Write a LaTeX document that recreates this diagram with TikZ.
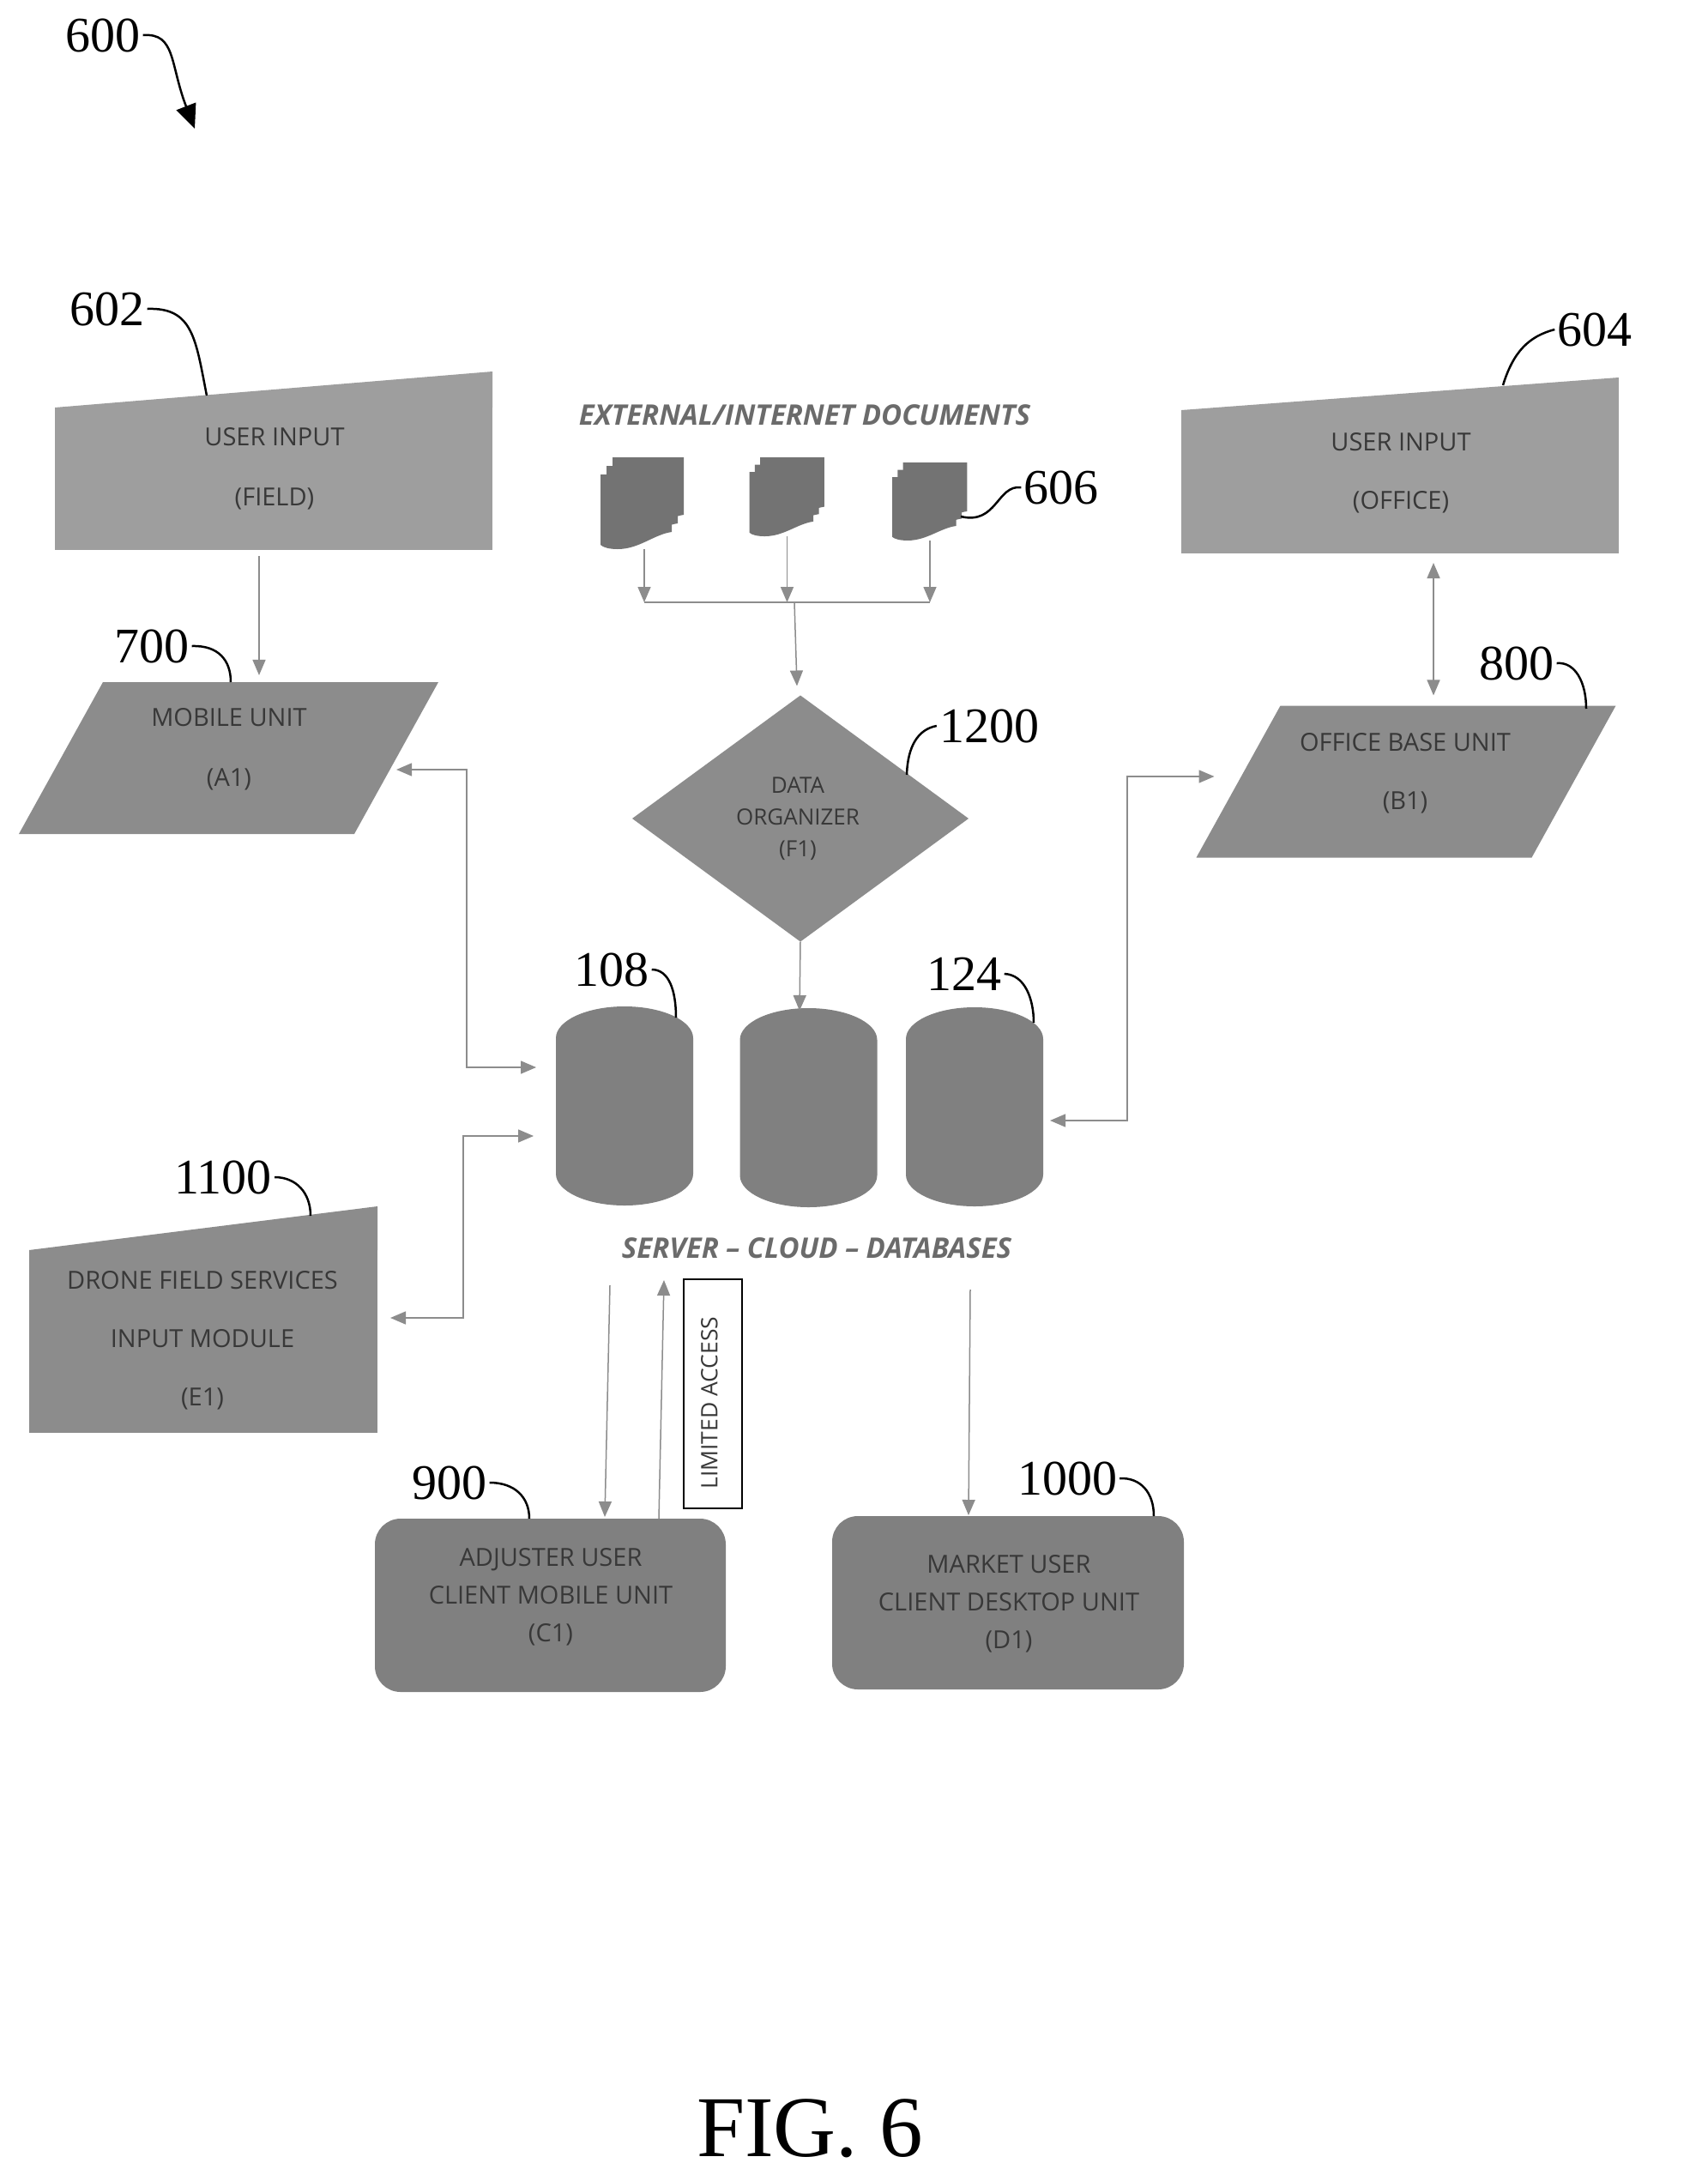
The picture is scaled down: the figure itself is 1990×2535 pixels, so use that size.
\documentclass[tikz,border=0pt]{standalone}
\usepackage{fontspec}
\setmainfont{Open Sans}
\newfontfamily\numfont{Liberation Serif}
\usetikzlibrary{shapes.geometric,arrows.meta}

\definecolor{inputgray}{gray}{0.62}
\definecolor{unitgray}{gray}{0.55}
\definecolor{cylgray}{gray}{0.50}
\definecolor{docgray}{gray}{0.45}
\definecolor{linegray}{gray}{0.55}
\definecolor{textgray}{gray}{0.22}
\definecolor{headgray}{gray}{0.42}

\begin{document}
\begin{tikzpicture}[%
    x=1pt, y=-1pt,               % one unit is one pixel of the sheet, y going down
    >={Triangle[length=18pt,width=15pt]},
    ]
% -------------------------------------------------
% A few box styles
\tikzset{
  base/.style={inner sep=1pt, outer sep=0pt},
  inbox/.style={base, rectangle, fill=inputgray},
  dronebox/.style={base, rectangle, fill=unitgray},
  unit/.style={base, trapezium, trapezium left angle=71.5, trapezium right angle=108.5,
    trapezium stretches=true, fill=unitgray, minimum height=177pt, minimum width=489pt},
  client/.style={base, rectangle, rounded corners=30pt, fill=cylgray, minimum height=202pt},
  organize/.style={base, diamond, fill=unitgray, minimum width=392pt, minimum height=287pt},
  dbase/.style={base, rectangle, minimum width=160pt, minimum height=232pt},
  docbox/.style={base, rectangle},
  % text of the boxes
  blabel/.style={base, align=center, text=textgray, font=\fontsize{29}{#1}\selectfont},
  blabel/.default=70,
  head/.style={base, text=headgray, font=\fontsize{33}{38}\selectfont\bfseries\itshape},
  refnum/.style={inner sep=3pt, font=\numfont\fontsize{58}{60}\selectfont},
  % -------------------------------------------------
  % Connector line styles
  plainlink/.style={draw=linegray, line width=1.5pt},
  link/.style={plainlink, ->},
  duplex/.style={plainlink, <->},
  leader/.style={draw=black, line width=2.5pt},
  % the two drawn symbols
  pics/docstack/.style={code={
    \foreach \dx/\dy in {14/0,7/10,0/20}
      \fill[docgray, shift={(\dx,\dy)}] (0,0) -- (83,0) -- (83,67)
        .. controls (62,70) and (45,87) .. (20,87)
        .. controls (10,87) and (3,85) .. (0,82) -- cycle;
  }},
  pics/dbcan/.style={code={
    \fill[cylgray] (-80,-79) arc[start angle=180, end angle=0, x radius=80pt, y radius=37pt]
      -- (80,79) arc[start angle=0, end angle=-180, x radius=80pt, y radius=37pt] -- cycle;
  }},
}
\useasboundingbox (0,0) rectangle (1990,2535);
\fill[white] (0,0) rectangle (1990,2535);
% -------------------------------------------------
% Start by placing the shapes
\node [inbox, minimum width=510pt, minimum height=166pt] (field) at (319,558) {};
\fill [inputgray] (field.north west) -- ([yshift=42pt]field.north east) -- (field.north east) -- cycle;
\node [inbox, minimum width=509.5pt, minimum height=167pt] (office) at (1632,561.5) {};
\fill [inputgray] (office.north west) -- ([yshift=38pt]office.north east) -- (office.north east) -- cycle;
\node [dronebox, minimum width=406pt, minimum height=213pt] (drone) at (237,1563.5) {};
\fill [unitgray] (drone.north west) -- ([yshift=51pt]drone.north east) -- (drone.north east) -- cycle;

\node [unit] (mobile) at (266.5,883.5) {};
\node [unit] (base) at (1639,911) {};
\node [organize] (organizer) at (933,954) {};

\node [dbase] (dba) at (728,1289) {};
\node [dbase] (dbb) at (942.5,1291) {};
\node [dbase] (dbc) at (1136,1290) {};
\pic at (dba.center) {dbcan};
\pic at (dbb.center) {dbcan};
\pic at (dbc.center) {dbcan};

\node [client, minimum width=409pt] (adjuster) at (641.5,1871) {};
\node [client, minimum width=410pt] (market) at (1175,1868) {};
\node [base, draw=black, line width=1.5pt, fill=white, minimum width=68pt, minimum height=267pt] (limited) at (831,1624.5) {};

% the three stacks of documents
\node [docbox, minimum width=98pt, minimum height=107pt] (doca) at (749,586.5) {};
\node [docbox, minimum width=88pt, minimum height=92pt] (docb) at (917.5,579) {};
\node [docbox, minimum width=88pt, minimum height=91pt] (docc) at (1084,584.5) {};
\pic at (doca.north west) {docstack};
\pic [xscale=0.9, yscale=0.86] at (docb.north west) {docstack};
\pic [xscale=0.9, yscale=0.85] at (docc.north west) {docstack};
% -------------------------------------------------
% The texts
\node [blabel] (fieldtxt) at (320,546) {USER INPUT\\(FIELD)};
\node [blabel=68] (officetxt) at (1633,551) {USER INPUT\\(OFFICE)};
\node [blabel] (mobiletxt) at (267,873) {MOBILE UNIT\\(A1)};
\node [blabel=68] (basetxt) at (1638,901) {OFFICE BASE UNIT\\(B1)};
\node [blabel=37, font=\fontsize{26}{37}\selectfont] (organizertxt) at (930,954) {DATA\\ORGANIZER\\(F1)};
\node [blabel=68] (dronetxt) at (236,1562) {DRONE FIELD SERVICES\\INPUT MODULE\\(E1)};
\node [blabel=44] (adjustertxt) at (642,1861) {ADJUSTER USER\\CLIENT MOBILE UNIT\\(C1)};
\node [blabel=44] (markettxt) at (1176,1869) {MARKET USER\\CLIENT DESKTOP UNIT\\(D1)};
\node [blabel, rotate=90, font=\fontsize{26.5}{30}\selectfont] (limitedtxt) at (827,1635) {LIMITED ACCESS};
\node [head] (exthead) at (938,484) {EXTERNAL/INTERNET DOCUMENTS};
\node [head] (srvhead) at (952,1455) {SERVER -- CLOUD -- DATABASES};
% -------------------------------------------------
% Free ends and corners of the connectors
\coordinate (bus) at (926,702);
\coordinate (turnm) at (544,1244);
\coordinate (turnd) at (540,1324);
\coordinate (turnb) at (1314,1306);
\coordinate (srvdown) at (711,1498);
\coordinate (srvup) at (774,1492);
\coordinate (srvmarket) at (1131,1503);
% -------------------------------------------------
% Straight connectors
\draw [link] ([xshift=-17pt,yshift=-7pt]field.south) -- ([xshift=35.5pt,yshift=8pt]mobile.north);
\draw [duplex] ([xshift=39pt,yshift=-11pt]office.south) -- ([xshift=32pt,yshift=12pt]base.north);
\draw [link] ([xshift=2pt]doca.south) -- ([xshift=2pt]doca.south |- bus);
\draw [link] (docb.south) -- (docb.south |- bus);
\draw [link] (docc.south) -- (docc.south |- bus);
\draw [plainlink] ([xshift=2pt]doca.south |- bus) -- (docc.south |- bus);
\draw [link] (bus) -- ([xshift=-4pt,yshift=11pt]organizer.north);
\draw [link] (organizer.south) -- ([xshift=-10.5pt,yshift=-3pt]dbb.north);
\draw [link] (srvdown) -- ([xshift=63.5pt,yshift=2pt]adjuster.north);
\draw [link] ([xshift=126.5pt]adjuster.north) -- (srvup);
\draw [link] (srvmarket) -- ([xshift=-46pt,yshift=1pt]market.north);
% -------------------------------------------------
% The twisty connectors
\draw [duplex] ([yshift=-13.5pt]mobile.east) -| (turnm) -- ([xshift=-103pt,yshift=45pt]dba.center);
\draw [duplex] ([xshift=15pt,yshift=27.5pt]drone.east) -| (turnd) -- ([xshift=-106pt,yshift=-35pt]dba.center);
\draw [duplex] ([xshift=-28pt,yshift=6pt]base.west) -| (turnb) -- ([xshift=88pt,yshift=-16pt]dbc.center);
% -------------------------------------------------
% Reference numbers with their leaders
\node [refnum] (n600) at (120,41) {600};
\node [refnum] (n602) at (125,360) {602};
\node [refnum] (n604) at (1859,384) {604};
\node [refnum] (n606) at (1237,568) {606};
\node [refnum] (n700) at (177,753) {700};
\node [refnum] (n800) at (1768,773) {800};
\node [refnum] (n1200) at (1153,846) {1200};
\node [refnum] (n108) at (713,1130) {108};
\node [refnum] (n124) at (1124,1135) {124};
\node [refnum] (n1100) at (260,1372) {1100};
\node [refnum] (n900) at (524,1728) {900};
\node [refnum] (n1000) at (1244,1723) {1000};
\node [base, font=\numfont\fontsize{101}{104}\selectfont] (figure) at (944,2481) {FIG. 6};

\coordinate (t600) at (227,150);
\coordinate (t602) at (241,461);
\coordinate (t604) at (1752,449);
\coordinate (t606) at (1120,602);
\coordinate (t700) at (269,795);
\coordinate (t800) at (1849,826);
\coordinate (t1200) at (1057,903);
\coordinate (t108) at (788,1186);
\coordinate (t124) at (1205,1192);
\coordinate (t1100) at (362,1417);
\coordinate (t900) at (617,1770);
\coordinate (t1000) at (1345,1767);

\draw [leader, -{Triangle[length=28pt,width=24pt]}] (n600.east) .. controls (205,38) and (198,75) .. (t600);
\draw [leader] (n602.east) .. controls (225,358) and (228,395) .. (t602);
\draw [leader] (n604.west) .. controls (1782,392) and (1764,410) .. (t604);
\draw [leader] (n606.west) .. controls (1162,565) and (1162,612) .. (t606);
\draw [leader] (n700.east) .. controls (255,752) and (269,770) .. (t700);
\draw [leader] (n800.east) .. controls (1836,771) and (1849,795) .. (t800);
\draw [leader] (n1200.west) .. controls (1070,850) and (1058,870) .. (t1200);
\draw [leader] (n108.east) .. controls (780,1130) and (788,1155) .. (t108);
\draw [leader] (n124.east) .. controls (1195,1136) and (1205,1165) .. (t124);
\draw [leader] (n1100.east) .. controls (345,1372) and (362,1390) .. (t1100);
\draw [leader] (n900.east) .. controls (600,1728) and (617,1745) .. (t900);
\draw [leader] (n1000.east) .. controls (1330,1722) and (1345,1740) .. (t1000);
\end{tikzpicture}
\end{document}
